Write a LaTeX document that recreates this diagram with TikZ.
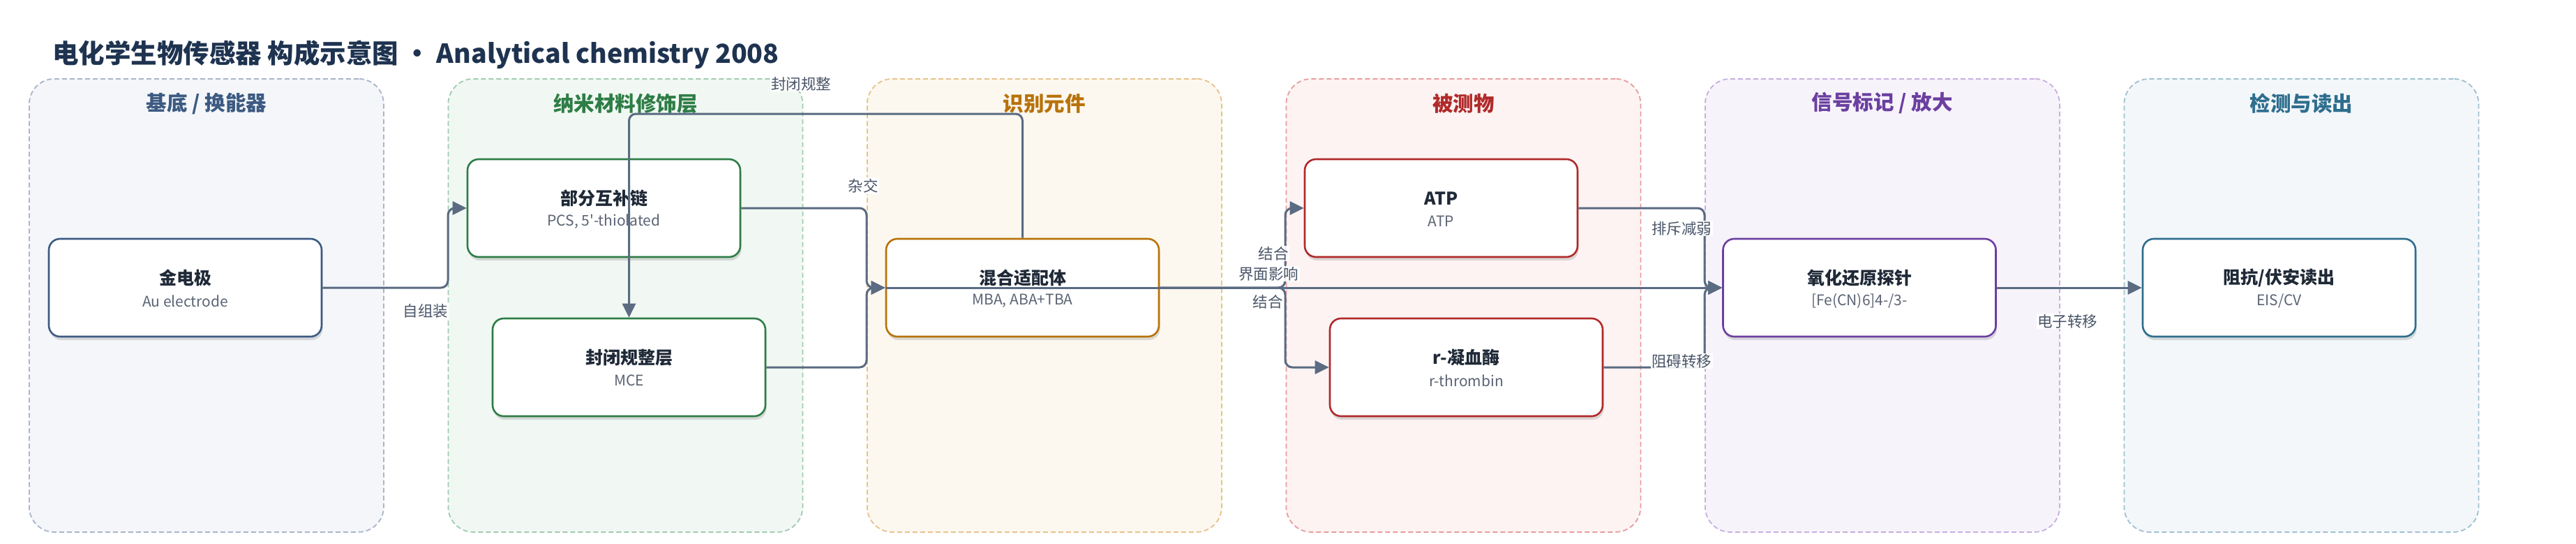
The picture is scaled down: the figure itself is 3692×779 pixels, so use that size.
\documentclass[tikz,border=0pt]{standalone}
\usepackage{fontspec}
\setmainfont{Noto Sans CJK SC}
\newfontfamily\nomap{Noto Sans CJK SC}
\usetikzlibrary{arrows.meta,shadows,calc}
\definecolor{ink}{HTML}{1F2937}
\definecolor{subink}{HTML}{5B6474}
\definecolor{titleink}{HTML}{1E3350}
\definecolor{edgec}{HTML}{5A6B82}
\definecolor{labink}{HTML}{4A5568}
\definecolor{gAf}{HTML}{F4F6FA}\definecolor{gAb}{HTML}{A9B5C8}\definecolor{gAt}{HTML}{3C5A82}
\definecolor{gBf}{HTML}{F1F8F3}\definecolor{gBb}{HTML}{9FCBB0}\definecolor{gBt}{HTML}{2E7D46}
\definecolor{gCf}{HTML}{FDF8EF}\definecolor{gCb}{HTML}{E6C28C}\definecolor{gCt}{HTML}{B8720A}
\definecolor{gDf}{HTML}{FDF3F3}\definecolor{gDb}{HTML}{E89C9C}\definecolor{gDt}{HTML}{B02A2A}
\definecolor{gEf}{HTML}{F7F3FB}\definecolor{gEb}{HTML}{C6AEE0}\definecolor{gEt}{HTML}{6B3FA0}
\definecolor{gFf}{HTML}{F3F7F9}\definecolor{gFb}{HTML}{9FC0D0}\definecolor{gFt}{HTML}{2E6E8E}
\newcommand\mkgroup[6]{% name, left x, fill, border, title colour, title
  \node[grp, draw=#4, fill=#3, anchor=north west] (#1) at (#2,112) {};
  \node[gtitle, text=#5] (#1-t) at ($(#1.north)+(0,36)$) {#6};}
\newcommand\mkbox[6]{% name, cx, cy, colour, title, subtitle
  \node[box, draw=#4] (#1) at (#2,#3) {};
  \node[ttl] (#1-t) at (#2,#3-14) {#5};
  \node[sub] (#1-s) at (#2,#3+19) {#6};}
\begin{document}
\begin{tikzpicture}[x=1pt,y=-1pt,
  grp/.style={line width=1.8pt, dash pattern=on 7pt off 4pt, rounded corners=36pt,
    minimum width=508pt, minimum height=649pt, inner sep=0pt},
  box/.style={fill=white, line width=2.6pt, rounded corners=16pt,
    minimum width=391pt, minimum height=140pt, inner sep=0pt,
    drop shadow={shadow xshift=1.5pt, shadow yshift=-5pt, opacity=0.13, fill=black}},
  ttl/.style={font=\fontsize{25}{30}\selectfont\bfseries, text=ink, inner sep=0pt},
  sub/.style={font=\fontsize{21}{25}\selectfont, text=subink, inner sep=0pt},
  gtitle/.style={font=\fontsize{29.5}{35}\selectfont\bfseries, inner sep=0pt},
  edge/.style={draw=edgec, line width=3pt, rounded corners=10pt,
    -{Triangle[length=20pt,width=19pt]}},
  elabel/.style={fill=white, fill opacity=0.9, text opacity=1, text=labink,
    font=\fontsize{21.5}{26}\selectfont, inner sep=1.5pt},
]
\useasboundingbox (0,0) rectangle (3692,779);
\fill[white] (0,0) rectangle (3692,779);

\node[anchor=west, text=titleink, font=\fontsize{37.5}{44}\selectfont\bfseries, inner sep=0pt]
  (title) at (75,78) {电化学生物传感器 构成示意图 · Analytical chemistry 2008};

\mkgroup{G1}{41}{gAf}{gAb}{gAt}{基底 / 换能器}
\mkgroup{G2}{641.5}{gBf}{gBb}{gBt}{纳米材料修饰层}
\mkgroup{G3}{1242}{gCf}{gCb}{gCt}{识别元件}
\mkgroup{G4}{1842.5}{gDf}{gDb}{gDt}{被测物}
\mkgroup{G5}{2443}{gEf}{gEb}{gEt}{信号标记 / 放大}
\mkgroup{G6}{3043.5}{gFf}{gFb}{gFt}{检测与读出}

\mkbox{jd}{265.5}{412}{gAt}{金电极}{Au electrode}
\mkbox{pcs}{865.5}{298}{gBt}{部分互补链}{{\nomap PCS, 5'-thiolated}}
\mkbox{mce}{901.5}{526}{gBt}{封闭规整层}{MCE}
\mkbox{mix}{1465.5}{412}{gCt}{混合适配体}{MBA, ABA+TBA}
\mkbox{atp}{2065.5}{298}{gDt}{ATP}{ATP}
\mkbox{thr}{2101.5}{526}{gDt}{r-凝血酶}{r-thrombin}
\mkbox{probe}{2665}{412}{gEt}{氧化还原探针}{[Fe(CN)6]4-/3-}
\mkbox{read}{3266.5}{412}{gFt}{阻抗/伏安读出}{EIS/CV}

\coordinate (b2) at (642,0);
\coordinate (b3) at (1242,0);
\coordinate (b4) at (1842,0);
\coordinate (b5) at (2443,0);
\coordinate (tl) at (0,163);

\draw[edge] (jd.east) -| (b2 |- pcs.west) -- (pcs.west);
\draw[edge] (mix.north) |- (mce.north |- tl) -- (mce.north);
\draw[edge] (pcs.east) -| (b3 |- mix.west) -- (mix.west);
\draw[edge] (mce.east) -| (b3 |- mix.west) -- (mix.west);
\draw[edge] (mix.west) -- (probe.west);
\draw[edge] (mix.east) -| (b4 |- atp.west) -- (atp.west);
\draw[edge] (mix.east) -| (b4 |- thr.west) -- (thr.west);
\draw[edge] (atp.east) -| (b5 |- probe.west) -- (probe.west);
\draw[edge] (thr.east) -| (b5 |- probe.west) -- (probe.west);
\draw[edge] (probe.east) -- (read.west);

\node[elabel] (l1) at (610,445) {自组装};
\node[elabel] (l2) at (1148,120) {封闭规整};
\node[elabel] (l3) at (1237,266) {杂交};
\node[elabel] (l4) at (1825,363) {结合};
\node[elabel] (l5) at (1818,392) {界面影响};
\node[elabel] (l6) at (1817,432) {结合};
\node[elabel] (l7) at (2410,327) {排斥减弱};
\node[elabel] (l8) at (2410,517) {阻碍转移};
\node[elabel] (l9) at (2963,460) {电子转移};
\end{tikzpicture}
\end{document}
